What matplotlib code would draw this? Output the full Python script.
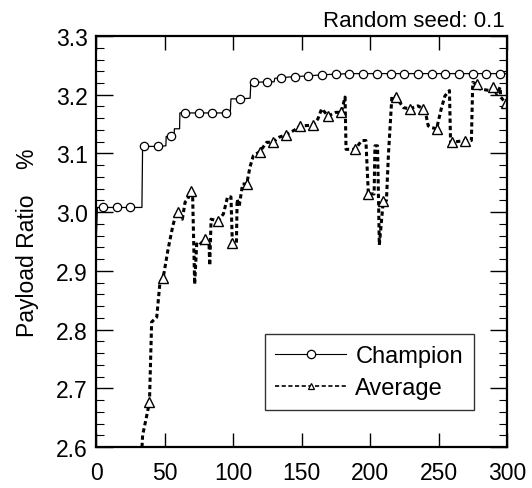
import numpy as np
import matplotlib
matplotlib.use("Agg")
import matplotlib.pyplot as plt
from matplotlib.ticker import MultipleLocator, FormatStrFormatter
from matplotlib.lines import Line2D

plt.rcParams['font.family'] = ['Liberation Sans', 'DejaVu Sans']

# Champion series (generation, payload ratio %)
champ_x = [0, 1, 5, 15, 25, 33.5, 34, 35, 45, 51, 51.2, 55, 57, 57.2, 61, 61.2,
           65, 75, 85, 95, 98, 98.5, 105, 112.5, 113, 115, 125, 130, 130.5, 135,
           145, 155, 165, 175, 185, 195, 205, 215, 225, 235, 245, 255, 265, 275,
           285, 295, 300]
champ_y = [2.94, 3.008, 3.008, 3.008, 3.008, 3.008, 3.112, 3.112, 3.112, 3.113, 3.129, 3.129,
           3.129, 3.142, 3.142, 3.169, 3.169, 3.169, 3.169, 3.169, 3.169, 3.193, 3.193,
           3.194, 3.221, 3.221, 3.222, 3.222, 3.228, 3.229, 3.231, 3.232, 3.234, 3.235,
           3.236, 3.236, 3.236, 3.236, 3.236, 3.236, 3.236, 3.236, 3.236, 3.236,
           3.236, 3.236, 3.236]
champ_marks = [5, 15, 25, 35, 45, 55, 65, 75, 85, 95, 105, 115, 125, 135, 145, 155,
               165, 175, 185, 195, 205, 215, 225, 235, 245, 255, 265, 275, 285, 295]

# Average series
avg_x = [32.5, 34, 36, 39, 40.6, 44.3, 46.7, 49, 52.6, 56, 58, 60, 63, 65, 67, 69,
         70.5, 72, 73.5, 75, 79.5, 82.5, 83, 84, 89, 93, 96, 98.5, 99.5, 102.5, 103,
         104.5, 107, 110, 112.4, 114.8, 119.5, 124.6, 129, 134, 139, 146.5, 149,
         158.5, 162, 164.7, 169.5, 175, 179, 181.8, 182.5, 189, 194, 197, 198.8,
         203, 203.6, 205.5, 206.8, 209.7, 212, 213.4, 216, 219, 224.4, 229, 235,
         239, 241, 242.5, 245, 248.6, 252, 254.7, 258, 258.8, 259.6, 269.3, 274,
         275, 278, 280, 287.6, 290, 292.5, 295, 295.4, 299]
avg_y = [2.55, 2.62, 2.642, 2.676, 2.813, 2.821, 2.881, 2.888, 2.937, 2.976, 2.994,
         3.000, 2.988, 3.017, 3.022, 3.036, 3.030, 2.877, 2.946, 2.943, 2.954, 2.945,
         2.909, 2.988, 2.985, 2.997, 3.026, 3.026, 2.948, 2.948, 3.022, 3.010, 3.048,
         3.048, 3.077, 3.096, 3.103, 3.119, 3.119, 3.128, 3.132, 3.142, 3.147, 3.148,
         3.159, 3.176, 3.164, 3.170, 3.170, 3.196, 3.107, 3.107, 3.122, 3.122, 3.031,
         3.031, 3.113, 3.113, 2.944, 3.019, 3.020, 3.096, 3.198, 3.196, 3.178, 3.176,
         3.181, 3.176, 3.164, 3.147, 3.144, 3.142, 3.176, 3.198, 3.207, 3.119, 3.119,
         3.122, 3.122, 3.221, 3.218, 3.210, 3.207, 3.213, 3.201, 3.213, 3.196, 3.186]
avg_marks = [39, 49, 60, 69, 79.5, 89, 99.5, 110, 119.5, 129, 139, 149, 158.5, 169.5,
             179, 189, 198.8, 209.7, 219, 229, 239, 248.6, 259.6, 269.3, 278, 290, 299]

x_ticks = [0, 50, 100, 150, 200, 250, 300]

fig = plt.figure(figsize=(5.32, 4.89), dpi=100)
ax = fig.add_axes([0.1805, 0.0838, 0.7725, 0.8405])

champ_idx = [i for i, v in enumerate(champ_x) if v in champ_marks]
avg_idx = [i for i, v in enumerate(avg_x) if v in avg_marks]

ax.plot(champ_x, champ_y, color='black', lw=0.9, marker='o', markersize=6,
        markerfacecolor='white', markeredgecolor='black', markeredgewidth=0.9,
        markevery=champ_idx, label='Champion', zorder=3)
ax.plot(avg_x, avg_y, color='black', lw=2.2, linestyle=(0, (1.4, 1.0)),
        marker='^', markersize=6.5, markerfacecolor='white',
        markeredgecolor='black', markeredgewidth=1.0,
        markevery=avg_idx, label='Average', zorder=2)

ax.set_xlim(0, 300)
ax.set_ylim(2.6, 3.3)
ax.set_xticks(x_ticks)
ax.yaxis.set_major_locator(MultipleLocator(0.1))
ax.yaxis.set_minor_locator(MultipleLocator(0.02))
ax.yaxis.set_major_formatter(FormatStrFormatter('%.1f'))

ax.tick_params(axis='both', which='major', direction='in', top=True, right=True,
               length=10, width=1.0, labelsize=16.5)
ax.tick_params(axis='x', which='major', pad=10)
ax.tick_params(axis='y', which='major', pad=6, length=12)
ax.tick_params(axis='y', which='minor', direction='in', right=True, length=6, width=0.8)

for s in ax.spines.values():
    s.set_linewidth(1.6)

ax.set_ylabel('Payload Ratio    %', fontsize=16.5, labelpad=12)

fig.text(0.949, 0.945, 'Random seed: 0.1', ha='right', va='baseline', fontsize=16)

h1 = Line2D([], [], color='black', lw=0.8, marker='o', markersize=6,
            markerfacecolor='white', markeredgecolor='black', markeredgewidth=0.9)
h2 = Line2D([], [], color='black', lw=1.2, linestyle=(0, (2.5, 1.5)), marker='^',
            markersize=5, markerfacecolor='white', markeredgecolor='black',
            markeredgewidth=0.9)
leg = ax.legend([h1, h2], ['Champion', 'Average'], loc='lower left',
                bbox_to_anchor=(0.41, 0.09), fontsize=17, frameon=True,
                fancybox=False, edgecolor='black', handlelength=3.0,
                handletextpad=0.4, labelspacing=0.45, borderpad=0.45,
                borderaxespad=0.0)
leg.get_frame().set_linewidth(1.0)

fig.savefig('out.png', dpi=100)
